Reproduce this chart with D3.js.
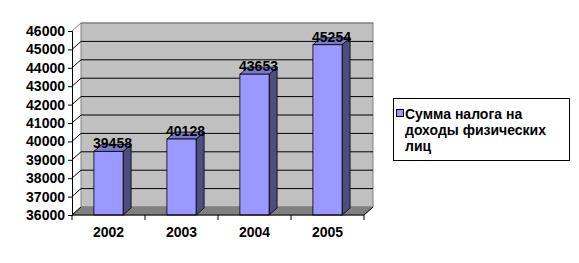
<!DOCTYPE html>
<html>
<head>
<meta charset="utf-8">
<script src="https://cdn.jsdelivr.net/npm/d3@7"></script>
<style>
  body { margin: 0; background: #fff; }
  text { font-family: "Liberation Sans", Arial, sans-serif; font-weight: bold; fill: #000; }
</style>
</head>
<body>
<div id="chart"></div>
<script>
// chart data
let years = ["2002", "2003", "2004", "2005"];
let taxValues = [39458, 40128, 43653, 45254];
let yTicks = [36000, 37000, 38000, 39000, 40000, 41000, 42000, 43000, 44000, 45000, 46000];
let legendLines = ["Сумма налога на", "доходы физических", "лиц"];

function drawChart() {
    let width = 579;
    let height = 263;
    let svg = d3.select("#chart").append("svg")
        .attr("width", width)
        .attr("height", height);

    // depth of the 3d box and of the bars
    let dx = 9, dy = -8;
    let bdx = 8, bdy = -7;

    let y = d3.scaleLinear()
        .domain([36000, 46000])
        .range([215, 31]);

    let x = d3.scaleBand()
        .domain(years)
        .range([72, 364])
        .paddingInner(0.6)
        .paddingOuter(0.3);

    // same band without padding, for the category ticks
    let xTicks = d3.scaleBand().domain(years).range([72, 364]);

    let x0 = 72, x1 = 364;
    let yBase = y(36000), yTop = y(46000);

    // back wall
    svg.append("rect")
        .attr("x", x0 + dx).attr("y", yTop + dy)
        .attr("width", x1 - x0).attr("height", yBase - yTop)
        .style("fill", "#c0c0c0")
        .style("stroke", "#808080");

    // floor
    svg.append("polygon")
        .attr("points", [[x0, yBase], [x1, yBase], [x1 + dx, yBase + dy], [x0 + dx, yBase + dy]].join(" "))
        .style("fill", "#808080")
        .style("stroke", "#808080");

    // gridlines, with the short diagonal on the side
    let grid = svg.append("g");
    yTicks.forEach(function(t) {
        let gy = y(t);
        let col = (t == 46000) ? "#808080" : "#000";
        if (t > 36000) {
            grid.append("line")
                .attr("x1", x0 + dx).attr("x2", x1 + dx)
                .attr("y1", gy + dy).attr("y2", gy + dy)
                .style("stroke", col);
        }
        grid.append("line")
            .attr("x1", x0).attr("x2", x0 + dx)
            .attr("y1", gy).attr("y2", gy + dy)
            .style("stroke", col);
    });
    // right edge of floor
    grid.append("line")
        .attr("x1", x1).attr("x2", x1 + dx)
        .attr("y1", yBase).attr("y2", yBase + dy)
        .style("stroke", "#000");

    // bars
    let bars = svg.append("g").selectAll("g")
        .data(years)
        .join("g");

    bars.each(function(d, i) {
        let g = d3.select(this);
        let bx = x(d), bw = x.bandwidth();
        let by = y(taxValues[i]);
        g.append("polygon")
            .attr("points", [[bx + bw, by], [bx + bw + bdx, by + bdy], [bx + bw + bdx, yBase + bdy], [bx + bw, yBase]].join(" "))
            .style("fill", "#4d4d80").style("stroke", "#000").style("stroke-width", 0.8);
        g.append("polygon")
            .attr("points", [[bx, by], [bx + bdx, by + bdy], [bx + bw + bdx, by + bdy], [bx + bw, by]].join(" "))
            .style("fill", "#7a7acc").style("stroke", "#000").style("stroke-width", 0.8);
        g.append("rect")
            .attr("x", bx).attr("y", by)
            .attr("width", bw).attr("height", yBase - by)
            .style("fill", "#9999ff").style("stroke", "#000").style("stroke-width", 0.8);
        g.append("text")
            .attr("x", bx + bw / 2 + 4)
            .attr("y", by - 3)
            .attr("text-anchor", "middle")
            .style("font-size", "14px")
            .text(taxValues[i]);
    });

    // y axis
    let yAxis = d3.axisLeft(y)
        .tickValues(yTicks)
        .tickSize(4)
        .tickPadding(3)
        .tickFormat(d3.format("d"));
    let ya = svg.append("g")
        .attr("transform", "translate(" + x0 + ",0)")
        .call(yAxis);
    ya.selectAll("text").style("font-size", "14px").style("font-family", "Liberation Sans, Arial, sans-serif").style("font-weight", "bold");
    ya.selectAll("line, path").style("stroke", "#000");

    // x axis
    let xa = svg.append("g");
    xa.append("line")
        .attr("x1", x0).attr("x2", x1)
        .attr("y1", yBase).attr("y2", yBase)
        .style("stroke", "#000");
    xa.selectAll(".tk")
        .data(years.concat(["end"]))
        .join("line")
        .attr("class", "tk")
        .attr("x1", function(d, i) { return i < years.length ? xTicks(d) : x1; })
        .attr("x2", function(d, i) { return i < years.length ? xTicks(d) : x1; })
        .attr("y1", yBase).attr("y2", yBase + 5)
        .style("stroke", "#000");
    xa.selectAll(".lbl")
        .data(years)
        .join("text")
        .attr("class", "lbl")
        .attr("x", function(d) { return xTicks(d) + xTicks.bandwidth() / 2; })
        .attr("y", 237)
        .attr("text-anchor", "middle")
        .style("font-size", "14px")
        .text(function(d) { return d; });

    // legend
    let legend = svg.append("g");
    legend.append("rect")
        .attr("x", 393.5).attr("y", 98.5)
        .attr("width", 176).attr("height", 62)
        .style("fill", "#fff").style("stroke", "#000");
    legend.append("rect")
        .attr("x", 396.5).attr("y", 109.5)
        .attr("width", 7).attr("height", 7)
        .style("fill", "#9999ff").style("stroke", "#000");
    legend.selectAll(".lg")
        .data(legendLines)
        .join("text")
        .attr("class", "lg")
        .attr("x", 405)
        .attr("y", function(d, i) { return 119 + i * 16; })
        .style("font-size", "14px")
        .text(function(d) { return d; });
}

drawChart();
</script>
</body>
</html>
